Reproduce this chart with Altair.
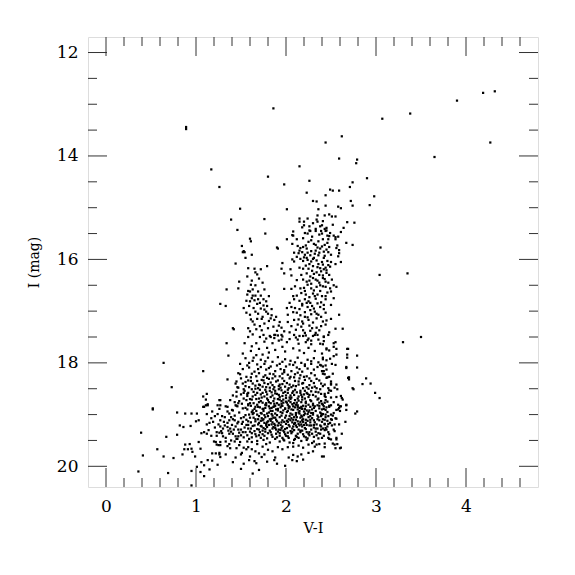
import altair as alt
import pandas as pd

# ---- axis ticks / labels -------------------------------------------------
x_major = [0, 1, 2, 3, 4]
x_minor = [0.2, 0.4, 0.6, 0.8, 1.2, 1.4, 1.6, 1.8, 2.2, 2.4, 2.6, 2.8,
           3.2, 3.4, 3.6, 3.8, 4.2, 4.4, 4.6]
y_major = [12, 14, 16, 18, 20]
y_minor = [12.5, 13, 13.5, 14.5, 15, 15.5, 16.5, 17, 17.5, 18.5, 19, 19.5]

# ---- stars (V-I, I) ------------------------------------------------------
bright_sparse = [
    (3.90, 12.93), (4.19, 12.78), (4.32, 12.75), (3.38, 13.18), (3.07, 13.28),
    (2.62, 13.62), (2.44, 13.74), (4.27, 13.74), (3.65, 14.02), (2.59, 14.05),
    (2.79, 14.07), (2.78, 14.14), (2.15, 14.20), (1.80, 14.40), (2.26, 14.48),
    (1.98, 14.55), (2.74, 14.51), (2.71, 14.60), (0.89, 13.44), (0.89, 13.48),
    (1.17, 14.26), (1.86, 13.08), (1.26, 14.60), (2.90, 14.43), (2.98, 14.78),
    (2.93, 14.95),
]
rgb_top = [
    (2.23, 14.71), (2.49, 14.65), (2.52, 14.67), (2.59, 14.67), (2.44, 14.76),
    (2.30, 14.87), (2.34, 14.88), (2.72, 14.87), (2.58, 14.98), (2.61, 15.01),
    (2.44, 14.96), (1.49, 15.02), (2.01, 15.03), (2.36, 15.03), (2.74, 14.96),
    (1.76, 15.22), (1.39, 15.23), (2.15, 15.21), (2.20, 15.27), (2.15, 15.27),
    (2.24, 15.21), (2.35, 15.15), (2.34, 15.23), (2.35, 15.27), (2.43, 15.15),
    (2.48, 15.13), (2.51, 15.17), (2.55, 15.17), (2.41, 15.26), (2.68, 15.28),
    (2.76, 15.29), (2.20, 15.34), (2.26, 15.36), (2.40, 15.34), (2.45, 15.39),
    (1.46, 15.43), (1.77, 15.50), (2.08, 15.46), (2.07, 15.53), (2.08, 15.54),
    (2.26, 15.44), (2.27, 15.45), (2.33, 15.41), (2.33, 15.45), (2.37, 15.52),
    (2.43, 15.41), (2.44, 15.45), (2.45, 15.44), (2.24, 15.50), (2.29, 15.56),
    (2.40, 15.50), (2.46, 15.54), (2.48, 15.55), (2.53, 15.54), (2.55, 15.57),
    (2.61, 15.47), (2.64, 15.39),
]
rgb_mid = [
    (2.01, 15.61), (2.12, 15.61), (2.19, 15.59), (1.60, 15.60),
    (2.28, 15.63), (2.36, 15.65), (2.41, 15.61), (2.47, 15.61), (2.46, 15.68),
    (2.55, 15.61), (2.57, 15.73), (2.67, 15.68), (2.74, 15.72), (2.07, 15.70),
    (2.13, 15.74), (2.16, 15.78), (2.19, 15.76), (2.23, 15.79), (2.33, 15.72),
    (2.35, 15.77), (2.38, 15.79), (2.43, 15.72), (2.45, 15.81), (2.56, 15.78),
    (2.59, 15.82), (2.15, 15.83), (2.18, 15.86), (2.14, 15.88), (2.21, 15.91),
    (2.24, 15.87), (2.27, 15.92), (2.33, 15.83), (2.37, 15.87), (2.36, 15.92),
    (2.47, 15.86), (2.50, 15.91), (2.59, 15.88), (2.58, 15.94), (2.09, 15.87),
    (2.12, 15.95), (2.07, 16.00), (2.16, 15.99), (2.23, 15.97), (2.24, 16.01),
    (2.28, 16.04), (2.30, 15.99), (2.42, 15.97), (2.40, 16.05), (2.46, 16.03),
    (2.50, 16.05), (2.61, 16.05), (2.55, 16.09), (1.96, 16.07), (2.09, 16.04),
    (2.26, 16.09), (2.30, 16.13), (2.36, 16.09), (2.41, 16.10), (2.44, 16.16),
    (2.49, 16.14), (2.42, 16.19), (2.15, 16.16), (2.19, 16.18), (1.95, 16.18),
    (2.05, 16.19), (2.29, 16.22), (2.34, 16.25), (2.39, 16.23), (2.45, 16.26),
    (2.37, 16.30), (2.41, 16.31), (2.48, 16.30), (2.23, 16.27), (2.17, 16.30),
    (2.06, 16.31), (1.98, 16.27), (2.30, 16.36), (2.33, 16.39), (2.41, 16.36),
    (2.44, 16.43), (2.23, 16.43), (2.19, 16.39), (2.51, 16.39), (2.12, 16.40),
    (2.37, 16.45), (2.47, 16.45), (1.98, 16.57), (2.06, 16.57), (2.16, 16.56),
    (2.21, 16.61), (2.28, 16.56), (2.34, 16.53), (2.41, 16.52), (2.49, 16.56),
    (2.53, 16.50), (2.56, 16.53), (2.24, 16.49), (2.10, 16.52), (2.17, 16.65),
    (2.22, 16.68), (2.30, 16.66), (2.35, 16.68), (2.50, 16.62), (2.44, 16.71),
    (2.12, 16.70), (2.08, 16.71), (2.09, 16.77), (2.15, 16.80), (2.21, 16.77),
    (2.25, 16.81), (2.33, 16.76), (2.44, 16.77), (2.39, 16.83), (2.04, 16.84),
    (2.23, 16.84), (2.53, 16.75), (2.06, 16.92), (2.10, 16.94), (2.18, 16.89),
    (2.24, 16.92), (2.29, 16.90), (2.31, 16.95), (2.38, 16.92), (2.50, 16.88),
    (2.01, 16.94), (2.08, 17.02), (2.12, 17.03), (2.21, 17.02), (2.32, 17.01),
    (2.36, 17.07), (2.44, 17.03), (2.59, 17.07), (2.02, 17.07), (2.02, 17.21),
    (2.09, 17.17), (2.14, 17.16), (2.18, 17.20), (2.25, 17.17), (2.34, 17.14),
    (2.41, 17.20), (2.50, 17.15), (2.21, 17.11), (2.06, 17.29), (2.13, 17.26),
    (2.17, 17.30), (2.26, 17.28), (2.29, 17.33), (2.34, 17.32), (2.44, 17.26),
    (2.55, 17.34), (2.63, 17.34), (2.04, 17.41), (2.09, 17.46), (2.15, 17.48),
    (2.21, 17.42), (2.27, 17.38), (2.30, 17.48), (2.33, 17.42), (2.35, 17.46),
    (2.42, 17.50), (2.48, 17.41),
]
rgb_extra = [
    (2.25, 15.66), (2.31, 15.70), (2.40, 15.75), (2.28, 15.84), (2.42, 15.85),
    (2.31, 15.97), (2.19, 16.03), (2.35, 16.15), (2.22, 16.12), (2.45, 16.21),
    (2.27, 16.33), (2.35, 16.41), (2.28, 16.47), (2.44, 16.53), (2.31, 16.60),
    (2.38, 16.61), (2.26, 16.73), (2.40, 16.71), (2.18, 16.86), (2.35, 16.85),
    (2.27, 16.98), (2.42, 16.96), (2.16, 17.08), (2.28, 17.06), (2.39, 17.11),
    (2.19, 17.37), (2.39, 17.29), (2.11, 17.36), (2.47, 17.46), (2.24, 17.56),
    (2.18, 15.38), (2.30, 15.30), (2.38, 15.36), (2.52, 15.33), (2.21, 15.49),
    (2.39, 15.45), (2.49, 15.49), (2.58, 15.56), (2.22, 15.73), (2.48, 15.76),
    (2.32, 15.89), (2.43, 15.93), (2.20, 15.96), (2.34, 16.02), (2.47, 16.11),
    (2.25, 16.18), (2.38, 16.17), (2.31, 16.28), (2.43, 16.38), (2.26, 16.41),
    (2.38, 16.50), (2.20, 16.55), (2.32, 16.71), (2.46, 16.64), (2.27, 16.84),
    (2.42, 16.88), (2.15, 16.96), (2.34, 17.05), (2.24, 17.12), (2.45, 17.18),
    (2.30, 17.22), (2.19, 17.24), (2.37, 17.37), (2.22, 17.47), (2.28, 17.57),
    (2.13, 17.55),
]
blue_column = [
    (1.61, 15.65), (1.51, 15.74), (1.53, 15.84),
    (1.54, 15.86), (1.52, 15.86), (1.62, 15.91), (1.55, 15.97), (1.90, 15.77),
    (1.91, 15.79), (1.79, 16.13), (1.58, 16.17), (1.65, 16.18), (1.66, 16.25),
    (1.72, 16.19), (1.70, 16.37), (1.66, 16.50), (1.63, 16.58), (1.60, 16.62),
    (1.58, 16.61), (1.57, 16.68), (1.63, 16.70), (1.72, 16.70), (1.62, 16.75),
    (1.65, 16.79), (1.69, 16.77), (1.75, 16.77), (1.60, 16.81), (1.68, 16.86),
    (1.75, 16.89), (1.79, 16.90), (1.64, 16.94), (1.72, 16.95), (1.76, 16.97),
    (1.53, 16.94), (1.56, 17.03), (1.66, 17.01), (1.78, 17.01), (1.80, 17.05),
    (1.84, 17.08), (1.60, 17.07), (1.61, 17.16), (1.68, 17.15), (1.73, 17.15),
    (1.83, 17.14), (1.87, 17.17), (1.93, 17.21), (1.63, 17.20), (1.65, 17.26),
    (1.71, 17.29), (1.76, 17.24), (1.86, 17.30), (1.92, 17.28), (1.95, 17.32),
    (1.58, 17.33), (1.60, 17.39), (1.75, 17.46), (1.83, 17.50), (1.87, 17.46),
    (1.91, 17.47), (1.95, 17.46), (1.87, 17.52), (1.44, 16.08), (1.48, 16.43),
    (1.34, 16.58), (1.47, 16.56), (1.27, 16.86), (1.33, 16.90), (1.41, 17.33),
    (1.42, 17.35), (1.34, 17.62), (1.36, 17.86), (0.64, 18.00), (1.08, 18.16),
    (1.49, 18.22), (0.73, 18.47), (1.35, 18.32), (1.45, 18.36), (1.44, 18.40),
    (1.46, 18.47), (1.45, 18.56), (1.41, 18.63), (1.45, 18.65),
]
blue_column_extra = [
    (1.57, 16.33), (1.62, 16.41), (1.68, 16.29), (1.74, 16.45), (1.61, 16.49),
    (1.69, 16.62), (1.76, 16.58), (1.81, 16.71), (1.66, 16.70), (1.71, 16.84),
    (1.78, 16.81), (1.84, 16.96), (1.69, 17.05), (1.74, 17.11), (1.81, 17.19),
    (1.89, 17.11), (1.67, 17.35), (1.73, 17.37), (1.80, 17.33), (1.90, 17.38),
    (1.98, 17.39), (1.78, 17.53), (1.95, 17.55), (1.58, 17.50), (1.54, 17.62),
    (1.62, 17.68), (1.59, 16.90), (1.56, 16.80),
]
clump_upper = [
    (1.63, 17.45), (1.71, 17.50), (1.82, 17.48), (1.88, 17.46), (1.96, 17.49),
    (2.04, 17.54), (2.11, 17.51), (2.19, 17.48), (2.25, 17.53), (2.32, 17.46),
    (2.36, 17.55), (2.42, 17.49), (1.67, 17.62), (1.76, 17.59), (1.85, 17.62),
    (1.92, 17.57), (2.01, 17.60), (2.14, 17.63), (2.22, 17.60), (2.28, 17.64),
    (2.38, 17.63), (2.55, 17.60), (2.69, 17.73), (2.45, 17.72), (1.61, 17.77),
    (1.70, 17.73), (1.79, 17.71), (1.81, 17.80), (1.88, 17.75), (1.96, 17.69),
    (1.99, 17.78), (2.08, 17.72), (2.15, 17.76), (2.20, 17.81), (2.25, 17.71),
    (2.32, 17.77), (2.40, 17.82), (2.48, 17.76), (2.56, 17.84), (2.68, 17.90),
    (1.52, 17.82), (1.67, 17.85), (1.74, 17.84), (1.55, 17.91), (1.64, 17.90),
    (1.72, 17.94), (1.80, 17.90), (1.85, 17.98), (1.91, 17.89), (1.99, 17.93),
    (2.05, 17.96), (2.13, 17.90), (2.17, 18.00), (2.24, 17.94), (2.31, 17.91),
    (2.36, 17.99), (2.45, 17.95), (2.51, 18.02), (1.49, 18.02), (1.59, 18.00),
    (1.68, 18.03), (1.76, 18.02), (1.93, 18.02), (2.04, 18.03), (2.21, 18.03),
    (2.28, 18.02), (1.52, 18.12), (1.59, 18.09), (1.65, 18.17), (1.72, 18.08),
    (1.78, 18.13), (1.83, 18.07), (1.88, 18.16), (1.94, 18.12), (2.00, 18.07),
    (2.06, 18.16), (2.12, 18.09), (2.18, 18.17), (2.24, 18.11), (2.28, 18.20),
    (2.35, 18.08), (2.40, 18.16), (2.45, 18.13), (2.52, 18.21), (2.67, 18.08),
    (1.47, 18.20), (1.62, 18.21), (1.82, 18.21), (1.96, 18.21), (2.10, 18.22),
    (2.32, 18.24),
]
clump_mid = [
    (1.50, 18.30), (1.56, 18.27), (1.61, 18.35), (1.67, 18.26), (1.73, 18.33),
    (1.79, 18.29), (1.83, 18.38), (1.88, 18.26), (1.91, 18.34), (1.96, 18.30),
    (2.01, 18.39), (2.05, 18.27), (2.10, 18.35), (2.15, 18.30), (2.19, 18.39),
    (2.23, 18.26), (2.28, 18.35), (2.34, 18.31), (2.39, 18.40), (2.45, 18.29),
    (2.50, 18.36), (2.56, 18.42), (2.69, 18.29), (1.52, 18.40), (1.70, 18.42),
    (1.76, 18.39), (1.93, 18.42), (2.14, 18.42), (1.47, 18.48), (1.54, 18.54),
    (1.59, 18.47), (1.64, 18.56), (1.69, 18.49), (1.74, 18.58), (1.78, 18.47),
    (1.82, 18.54), (1.86, 18.51), (1.90, 18.60), (1.94, 18.48), (1.99, 18.56),
    (2.03, 18.49), (2.07, 18.58), (2.11, 18.45), (2.16, 18.54), (2.19, 18.49),
    (2.24, 18.60), (2.29, 18.48), (2.33, 18.56), (2.38, 18.51), (2.43, 18.60),
    (2.48, 18.53), (2.54, 18.48), (2.74, 18.49), (1.50, 18.61), (1.57, 18.60),
    (1.66, 18.62), (1.85, 18.63), (2.00, 18.63), (2.17, 18.62), (2.33, 18.65),
    (1.48, 18.74), (1.53, 18.69), (1.58, 18.80), (1.62, 18.71), (1.66, 18.85),
    (1.70, 18.76), (1.73, 18.67), (1.77, 18.81), (1.80, 18.72), (1.84, 18.87),
    (1.87, 18.69), (1.90, 18.78), (1.93, 18.71), (1.96, 18.83), (2.00, 18.75),
    (2.04, 18.67), (2.07, 18.80), (2.10, 18.72), (2.13, 18.85), (2.17, 18.76),
    (2.21, 18.69), (2.25, 18.81), (2.28, 18.74), (2.32, 18.84), (2.36, 18.69),
    (2.40, 18.79), (2.44, 18.72), (2.48, 18.83), (2.53, 18.76), (2.60, 18.84),
    (2.67, 18.81), (1.46, 18.84), (1.55, 18.87), (1.75, 18.89), (1.91, 18.89),
    (2.03, 18.88), (2.18, 18.89), (2.37, 18.88), (2.50, 18.67), (2.56, 18.66),
    (2.63, 18.71), (1.68, 18.35), (1.75, 18.27), (1.81, 18.31), (1.85, 18.43),
    (1.92, 18.45), (1.98, 18.35), (2.04, 18.42), (2.08, 18.44), (2.14, 18.36),
    (2.21, 18.33), (2.26, 18.43), (2.31, 18.39), (1.71, 18.52), (1.76, 18.65),
    (1.79, 18.61), (1.88, 18.54), (1.93, 18.66), (1.97, 18.71), (2.02, 18.58),
    (2.06, 18.67), (2.09, 18.62), (2.13, 18.69), (2.16, 18.58), (2.21, 18.54),
    (2.25, 18.66), (2.30, 18.62), (2.35, 18.71), (1.72, 18.74), (1.78, 18.78),
    (1.83, 18.78), (1.88, 18.83), (1.95, 18.79), (1.99, 18.88), (2.05, 18.76),
    (2.11, 18.81), (2.15, 18.87), (2.22, 18.78), (2.27, 18.85), (1.68, 18.81),
    (1.63, 18.65), (1.60, 18.78), (1.82, 18.48), (1.95, 18.53), (2.10, 18.52),
    (2.23, 18.47), (1.89, 18.36), (1.63, 18.40), (1.58, 18.34),
]
clump_lower = [
    (1.26, 18.89), (1.33, 18.84), (1.40, 18.91), (1.45, 18.83), (1.52, 18.88),
    (1.58, 18.82), (1.63, 18.92), (1.69, 18.85), (1.74, 18.89), (1.78, 18.82),
    (1.82, 18.88), (1.87, 18.84), (1.91, 18.92), (1.95, 18.83), (1.99, 18.89),
    (2.04, 18.85), (2.08, 18.91), (2.13, 18.82), (2.17, 18.88), (2.22, 18.84),
    (2.26, 18.92), (2.31, 18.87), (2.37, 18.83), (2.42, 18.89), (2.48, 18.85),
    (1.67, 18.93), (1.85, 18.93), (2.02, 18.93), (2.15, 18.93), (2.30, 18.82),
    (1.24, 18.99), (1.29, 19.03), (1.37, 18.98), (1.43, 19.02), (1.48, 18.96),
    (1.53, 19.05), (1.59, 19.00), (1.64, 18.97), (1.70, 19.03), (1.73, 18.98),
    (1.77, 19.05), (1.81, 18.96), (1.85, 19.02), (1.88, 18.98), (1.93, 19.05),
    (1.96, 18.97), (2.00, 19.02), (2.05, 18.98), (2.09, 19.05), (2.14, 18.96),
    (2.17, 19.02), (2.21, 18.98), (2.25, 19.05), (2.30, 18.97), (2.35, 19.02),
    (2.40, 19.00), (2.47, 19.03), (2.53, 18.97), (1.76, 19.01), (1.95, 19.02),
    (2.11, 19.01), (2.20, 18.94), (1.27, 19.11), (1.35, 19.16), (1.41, 19.09),
    (1.47, 19.14), (1.51, 19.18), (1.56, 19.10), (1.61, 19.15), (1.66, 19.09),
    (1.70, 19.16), (1.74, 19.11), (1.78, 19.18), (1.82, 19.09), (1.85, 19.15),
    (1.89, 19.10), (1.92, 19.16), (1.96, 19.11), (2.00, 19.18), (2.03, 19.09),
    (2.07, 19.15), (2.11, 19.10), (2.14, 19.18), (2.18, 19.11), (2.22, 19.16),
    (2.27, 19.10), (2.32, 19.15), (2.37, 19.11), (2.43, 19.18), (2.51, 19.10),
    (1.73, 19.07), (1.88, 19.06), (2.02, 19.14), (2.16, 19.14), (1.83, 19.12),
    (2.05, 19.11), (1.32, 19.21), (1.38, 19.27), (1.44, 19.23), (1.50, 19.29),
    (1.56, 19.20), (1.61, 19.27), (1.65, 19.21), (1.70, 19.29), (1.73, 19.23),
    (1.77, 19.28), (1.81, 19.20), (1.85, 19.27), (1.88, 19.21), (1.92, 19.29),
    (1.96, 19.23), (1.99, 19.28), (2.03, 19.20), (2.07, 19.27), (2.11, 19.21),
    (2.14, 19.29), (2.18, 19.23), (2.22, 19.28), (2.28, 19.21), (2.33, 19.27),
    (2.39, 19.23), (2.45, 19.29), (1.94, 19.30), (2.09, 19.30), (1.79, 19.24),
    (2.20, 19.20), (1.41, 19.37), (1.47, 19.42), (1.52, 19.34), (1.57, 19.40),
    (1.62, 19.36), (1.67, 19.42), (1.71, 19.34), (1.76, 19.41), (1.80, 19.36),
    (1.85, 19.43), (1.89, 19.37), (1.93, 19.41), (1.98, 19.34), (2.02, 19.42),
    (2.06, 19.36), (2.11, 19.41), (2.16, 19.34), (2.20, 19.42), (2.25, 19.37),
    (2.31, 19.43), (2.36, 19.36), (2.42, 19.41), (2.48, 19.38), (1.96, 19.45),
    (1.59, 19.47), (1.68, 19.51), (1.75, 19.49), (1.82, 19.54), (1.88, 19.47),
    (1.93, 19.52), (1.98, 19.50), (2.04, 19.54), (2.10, 19.47), (2.17, 19.51),
    (2.23, 19.49), (2.29, 19.55), (2.08, 19.55),
]
clump_extra = [
    (1.71, 18.43), (1.77, 18.52), (1.84, 18.57), (1.79, 18.69), (1.86, 18.74),
    (1.92, 18.62), (1.97, 18.58), (2.03, 18.73), (2.08, 18.55), (2.12, 18.77),
    (2.18, 18.71), (2.23, 18.58), (2.27, 18.72), (1.74, 18.77), (1.81, 18.84),
    (1.89, 18.90), (1.94, 18.86), (2.01, 18.95), (2.06, 18.90), (2.11, 18.97),
    (2.16, 19.06), (2.20, 19.01), (2.24, 19.12), (2.29, 19.07), (2.34, 19.19),
    (2.12, 19.24), (2.16, 19.31), (2.21, 19.26), (2.26, 19.34), (2.05, 19.32),
    (1.99, 19.38), (1.91, 19.33), (1.86, 19.24), (1.82, 19.31), (1.75, 19.26),
    (1.69, 19.19), (1.64, 19.06), (1.58, 19.13), (1.54, 19.25), (1.60, 19.33),
    (1.66, 19.38), (1.72, 19.45), (1.79, 19.46), (1.84, 19.39), (1.90, 19.44),
    (1.97, 19.48), (2.03, 19.45), (2.09, 19.49), (2.14, 19.45), (2.19, 19.38),
    (2.24, 19.46), (2.28, 19.29), (2.33, 19.33), (2.38, 19.37), (2.36, 19.46),
    (2.31, 19.52), (2.26, 19.40), (2.13, 19.13), (2.09, 19.18), (2.06, 19.07),
    (1.98, 19.14), (1.94, 19.20), (1.90, 19.13), (1.86, 19.06), (1.80, 19.13),
    (1.76, 19.16), (1.72, 19.12), (1.68, 19.00), (1.62, 18.95), (1.57, 18.90),
    (1.55, 19.01), (1.50, 19.07), (1.46, 19.17), (1.42, 19.29), (1.48, 19.35),
    (1.53, 19.44), (1.49, 19.53), (1.44, 19.42), (1.39, 19.33), (1.35, 19.24),
    (1.31, 19.14), (1.29, 19.36), (1.33, 19.52), (1.37, 19.57), (1.92, 18.51),
    (1.99, 18.46), (2.05, 18.63), (2.14, 18.65), (2.19, 18.83), (2.23, 18.92),
    (2.28, 18.97), (2.33, 18.93), (2.38, 18.96), (2.35, 19.09), (2.40, 19.14),
    (2.44, 19.05), (2.46, 18.95), (2.52, 19.02), (2.51, 19.21), (2.47, 19.34),
    (2.40, 19.45), (1.87, 18.79), (1.83, 18.93), (1.79, 18.98), (1.75, 18.93),
    (1.71, 18.86), (1.67, 18.70), (1.65, 18.89), (1.61, 18.83), (1.57, 18.64),
    (1.53, 18.58), (1.51, 18.79), (1.56, 18.72), (2.02, 18.81), (2.00, 18.68),
    (1.95, 18.74), (1.97, 18.92), (2.07, 19.00), (2.10, 18.86), (2.15, 18.98),
    (2.19, 19.09), (2.24, 18.99), (2.30, 19.00), (2.26, 19.21), (2.31, 19.25),
    (2.17, 19.19), (2.08, 19.23), (2.01, 19.26), (1.95, 19.26), (1.89, 19.29),
    (1.84, 19.19), (1.78, 19.21), (1.74, 19.31), (1.68, 19.28), (1.63, 19.22),
    (1.58, 19.27), (2.18, 18.40), (2.25, 18.50), (2.32, 18.46), (2.36, 18.57),
    (2.41, 18.45), (2.44, 18.66), (2.47, 18.58), (2.37, 18.77), (2.42, 18.84),
    (2.46, 18.75), (1.72, 18.61), (1.68, 18.58), (1.62, 18.51), (1.58, 18.58),
    (1.55, 18.45), (1.66, 18.44), (1.61, 18.28), (1.70, 18.20), (1.77, 18.24),
    (1.86, 18.22), (1.93, 18.26), (2.02, 18.23), (2.09, 18.28), (2.16, 18.24),
    (2.26, 18.30), (2.37, 18.34), (2.43, 18.22), (2.48, 18.27), (1.69, 18.12),
    (1.81, 18.10), (1.90, 18.05), (1.98, 18.14), (2.08, 18.04), (2.15, 18.12),
    (2.21, 18.06), (2.31, 18.13), (2.38, 18.04), (1.57, 18.05), (1.63, 17.96),
    (1.77, 17.97), (1.96, 17.98), (2.10, 17.99), (2.28, 17.97), (2.41, 17.93),
]
clump_core = [
    (1.78, 18.56), (1.83, 18.66), (1.88, 18.59), (1.91, 18.70), (1.96, 18.64),
    (2.01, 18.77), (2.05, 18.70), (2.09, 18.78), (2.14, 18.73), (2.18, 18.66),
    (2.22, 18.75), (2.26, 18.62), (1.81, 18.76), (1.86, 18.85), (1.92, 18.81),
    (1.97, 18.77), (2.03, 18.84), (2.08, 18.84), (2.13, 18.90), (2.17, 18.85),
    (2.21, 18.89), (2.25, 18.95), (2.29, 18.90), (1.77, 18.87), (1.72, 18.97),
    (1.80, 19.03), (1.84, 18.99), (1.90, 19.01), (1.94, 18.95), (1.99, 19.06),
    (2.04, 19.03), (2.08, 19.10), (2.12, 19.05), (2.18, 19.04), (2.22, 19.10),
    (2.27, 19.03), (2.31, 19.11), (2.36, 19.05), (1.69, 19.09), (1.75, 19.09),
    (1.79, 19.15), (1.84, 19.08), (1.87, 19.18), (1.91, 19.21), (1.95, 19.15),
    (2.01, 19.12), (2.04, 19.23), (2.10, 19.16), (2.15, 19.21), (2.19, 19.14),
    (2.23, 19.20), (2.27, 19.15), (2.31, 19.20), (2.35, 19.27), (1.72, 19.22),
    (1.77, 19.33), (1.83, 19.34), (1.88, 19.26), (1.93, 19.36), (1.97, 19.31),
    (2.02, 19.35), (2.07, 19.33), (2.13, 19.37), (2.18, 19.31), (2.23, 19.34),
    (2.29, 19.37), (2.34, 19.40), (1.65, 19.32), (1.70, 19.40), (1.62, 19.44),
    (1.74, 19.38), (2.00, 19.41), (2.12, 19.43), (2.22, 19.44), (1.60, 19.06),
    (1.66, 19.13), (1.63, 18.99), (1.58, 19.20), (1.52, 19.14), (1.47, 19.29),
    (1.55, 19.34), (1.43, 19.11), (1.40, 19.20), (1.36, 19.31), (1.45, 19.47),
    (1.50, 19.40), (1.74, 18.46), (1.80, 18.41), (1.87, 18.47), (1.96, 18.41),
    (2.02, 18.52), (2.06, 18.47), (2.12, 18.57), (2.20, 18.61), (2.28, 18.55),
    (2.34, 18.49), (2.30, 18.79), (2.35, 18.82), (2.40, 18.90), (2.45, 18.86),
    (2.39, 19.03), (2.43, 19.10), (2.38, 19.21), (2.41, 19.27), (1.98, 18.18),
    (2.04, 18.30), (2.13, 18.19), (2.20, 18.27), (1.75, 18.34), (1.85, 18.30),
    (1.55, 18.37), (1.66, 18.50), (1.53, 18.51), (1.60, 18.70), (1.64, 18.78),
    (1.70, 18.69),
]
faint_edge = [
    (1.24, 19.97), (1.26, 19.77), (1.27, 19.82), (1.35, 19.61), (1.38, 19.65),
    (1.33, 19.77), (1.41, 19.92), (1.44, 19.83), (1.50, 19.77), (1.51, 19.74),
    (1.53, 19.95), (1.50, 20.05), (1.59, 19.88), (1.60, 19.81), (1.63, 20.14),
    (1.65, 19.90), (1.67, 19.94), (1.70, 20.07), (1.73, 19.82), (1.76, 19.77),
    (1.79, 19.91), (1.88, 19.83), (1.87, 19.88), (1.90, 19.95), (1.99, 19.99),
    (2.03, 19.83), (2.08, 19.78), (2.07, 19.88), (2.12, 19.90), (2.13, 19.81),
    (2.17, 19.77), (2.19, 19.87), (2.25, 19.74), (2.30, 19.71), (2.40, 19.81),
    (2.34, 19.58), (2.43, 19.63), (2.52, 19.56), (2.55, 19.65), (2.60, 19.65),
    (2.56, 19.45), (2.62, 19.37), (2.54, 19.32), (2.54, 19.19), (2.48, 19.47),
    (2.60, 18.93), (2.61, 18.84), (2.55, 19.07), (1.23, 19.58), (1.27, 19.59),
    (1.27, 19.53), (1.25, 19.19), (1.27, 19.23), (1.30, 19.27), (1.28, 19.32),
    (1.23, 19.41), (1.30, 19.42), (1.33, 19.45), (1.37, 19.37), (1.32, 19.05),
    (1.37, 19.11), (1.39, 19.05), (1.35, 18.94), (1.41, 18.92), (1.39, 19.50),
    (1.43, 19.52), (1.46, 19.47), (1.48, 19.59), (1.53, 19.64), (1.56, 19.67),
    (1.45, 19.65), (1.58, 19.63), (1.62, 19.67), (1.66, 19.71), (1.70, 19.75),
    (1.57, 19.52), (1.62, 19.53), (1.68, 19.57), (1.74, 19.62), (1.78, 19.57),
    (1.80, 19.68), (1.85, 19.71), (1.91, 19.63), (1.96, 19.67), (2.02, 19.63),
    (2.08, 19.62), (2.14, 19.60), (2.19, 19.64), (2.25, 19.58), (2.32, 19.62),
    (2.37, 19.57),
]
blue_plume = [
    (0.52, 18.90), (0.39, 19.35), (0.41, 19.79), (0.36, 20.10), (0.57, 19.67),
    (0.64, 19.81), (0.67, 19.43), (0.69, 20.13), (0.75, 19.84), (0.79, 18.96),
    (0.79, 19.39), (0.82, 19.21), (0.86, 19.24), (0.88, 18.98), (0.85, 19.77),
    (0.88, 19.58), (0.93, 19.57), (0.87, 19.67), (0.91, 19.67), (0.95, 19.66),
    (0.96, 19.72), (0.95, 18.98), (1.01, 18.98), (0.94, 19.22), (1.00, 19.13),
    (1.03, 19.11), (0.99, 19.81), (1.01, 20.01), (0.95, 20.09), (0.95, 20.37),
    (1.05, 20.11), (1.09, 20.19), (1.06, 19.92), (1.05, 19.66), (1.03, 19.53),
    (1.06, 19.36), (1.09, 19.34), (1.08, 18.85), (1.11, 18.82), (1.13, 18.80),
    (1.12, 18.99), (1.18, 18.94), (1.15, 19.16), (1.19, 19.14), (1.12, 19.19),
    (1.14, 19.30), (1.12, 19.37), (1.21, 19.25), (1.23, 19.34), (1.17, 19.41),
    (1.20, 19.52), (1.22, 19.53), (1.25, 19.59), (1.18, 19.75), (1.22, 19.75),
    (1.26, 19.74), (1.13, 19.88), (1.18, 19.89), (1.15, 20.06), (1.09, 19.98),
    (1.26, 19.35), (1.17, 19.07), (1.21, 19.03), (1.27, 18.72), (1.27, 18.82),
    (0.52, 18.88), (1.12, 18.60), (1.08, 18.65), (1.11, 18.71), (1.26, 18.72),
    (1.38, 18.72), (1.43, 18.76), (1.47, 18.78), (1.44, 18.82), (1.24, 18.82),
    (1.13, 18.82), (1.09, 18.85), (1.35, 18.85),
]
red_scatter = [
    (3.30, 17.60), (2.42, 17.58), (2.41, 17.64), (2.53, 17.69), (2.56, 17.73),
    (2.53, 17.62), (2.45, 17.74), (2.68, 17.73), (2.41, 17.90), (2.79, 17.86),
    (2.68, 17.84), (2.49, 17.92), (2.53, 17.87), (2.55, 18.04), (2.39, 18.05),
    (2.41, 18.07), (2.44, 18.05), (2.42, 18.16), (2.41, 18.21), (2.67, 18.10),
    (2.79, 18.09), (2.70, 18.28), (2.70, 18.32), (2.46, 18.28), (2.89, 18.30),
    (2.85, 18.41), (2.94, 18.40), (2.43, 18.42), (2.50, 18.42), (2.47, 18.49),
    (2.50, 18.40), (2.57, 18.51), (2.75, 18.51), (2.50, 18.54), (2.99, 18.58),
    (3.04, 18.68), (2.39, 18.60), (2.43, 18.64), (2.61, 18.64), (2.62, 18.68),
    (2.39, 18.74), (2.43, 18.77), (2.41, 18.81), (2.50, 18.82), (2.58, 18.81),
    (2.59, 18.87), (2.67, 18.82), (2.67, 18.91), (2.56, 18.91), (2.58, 18.90),
    (2.79, 18.94), (2.77, 18.98), (2.44, 18.91), (2.39, 18.98), (2.41, 18.99),
    (2.44, 19.00), (2.50, 19.00), (2.56, 19.08), (2.66, 19.14), (2.41, 19.09),
    (2.46, 19.12), (2.50, 19.09), (2.49, 19.16), (2.43, 19.19), (2.47, 19.18),
    (2.46, 19.23), (2.44, 19.26), (2.39, 19.29), (2.43, 19.30), (2.53, 19.29),
    (2.59, 19.19), (2.47, 19.45), (2.50, 19.48), (2.56, 19.48), (2.57, 19.57),
    (2.54, 19.58), (2.43, 19.56), (2.61, 19.64), (2.42, 19.81), (3.05, 15.77),
    (3.04, 16.30), (3.35, 16.27), (3.50, 17.50),
]

groups = [bright_sparse, rgb_top, rgb_mid, rgb_extra, blue_column,
          blue_column_extra, clump_upper, clump_mid, clump_lower, clump_extra,
          clump_core, faint_edge, blue_plume, red_scatter]
rows = [{"vi": v, "imag": m} for g in groups for (v, m) in g]
stars = pd.DataFrame(rows)

W, H = 450, 450
MAJ, MIN = 19, 9
AX_COLOR = "#333333"
FONT = "DejaVu Serif"

xs = alt.Scale(domain=[-0.2, 4.8], nice=False, zero=False)
ys = alt.Scale(domain=[11.7, 20.4], nice=False, zero=False, reverse=True)

x_axis = alt.Axis(
    values=x_major, format="d", ticks=False, domain=False, grid=False,
    labelFont=FONT, labelFontSize=17, labelColor="black", labelPadding=11,
    title="V-I", titleFont=FONT, titleFontSize=14.5, titleFontWeight="normal",
    titleColor="black", titleX=225, titleY=45, titleBaseline="alphabetic")
y_axis = alt.Axis(
    values=y_major, format="d", ticks=False, domain=False, grid=False,
    labelFont=FONT, labelFontSize=17, labelColor="black", labelPadding=10,
    title="I (mag)", titleFont=FONT, titleFontSize=14,
    titleFontWeight="normal", titleColor="black", titleAngle=-90,
    titleX=-54, titleY=225, titleBaseline="middle")

points = alt.Chart(stars).mark_square(size=5, color="black", opacity=1,
                                      strokeWidth=0).encode(
    x=alt.X("vi:Q", scale=xs, axis=x_axis, title="V-I"),
    y=alt.Y("imag:Q", scale=ys, axis=y_axis, title="I (mag)"),
)


def xticks(vals, length, bottom):
    df = pd.DataFrame({"vi": vals})
    if bottom:
        y1, y2 = H, H - length
    else:
        y1, y2 = 0, length
    return alt.Chart(df).mark_rule(color=AX_COLOR, strokeWidth=1).encode(
        x=alt.X("vi:Q", scale=xs, axis=x_axis, title="V-I"),
        y=alt.value(y1), y2=alt.value(y2))


def yticks(vals, length, left):
    df = pd.DataFrame({"imag": vals})
    if left:
        x1, x2 = 0, length
    else:
        x1, x2 = W, W - length
    return alt.Chart(df).mark_rule(color=AX_COLOR, strokeWidth=1).encode(
        y=alt.Y("imag:Q", scale=ys, axis=y_axis, title="I (mag)"),
        x=alt.value(x1), x2=alt.value(x2))


tick_layers = [
    xticks(x_major, MAJ, True), xticks(x_minor, MIN, True),
    xticks(x_major, MAJ, False), xticks(x_minor, MIN, False),
    yticks(y_major, MAJ, True), yticks(y_minor, MIN, True),
    yticks(y_major, MAJ, False), yticks(y_minor, MIN, False),
]

chart = alt.layer(points, *tick_layers).properties(
    width=W, height=H,
    autosize=alt.AutoSizeParams(type="none"),
    padding={"left": 80, "top": 29, "right": 20, "bottom": 60},
).configure_view(stroke=AX_COLOR, strokeWidth=1).configure(background="white")

chart.save("out.html", embed_options={"renderer": "svg", "actions": False})
